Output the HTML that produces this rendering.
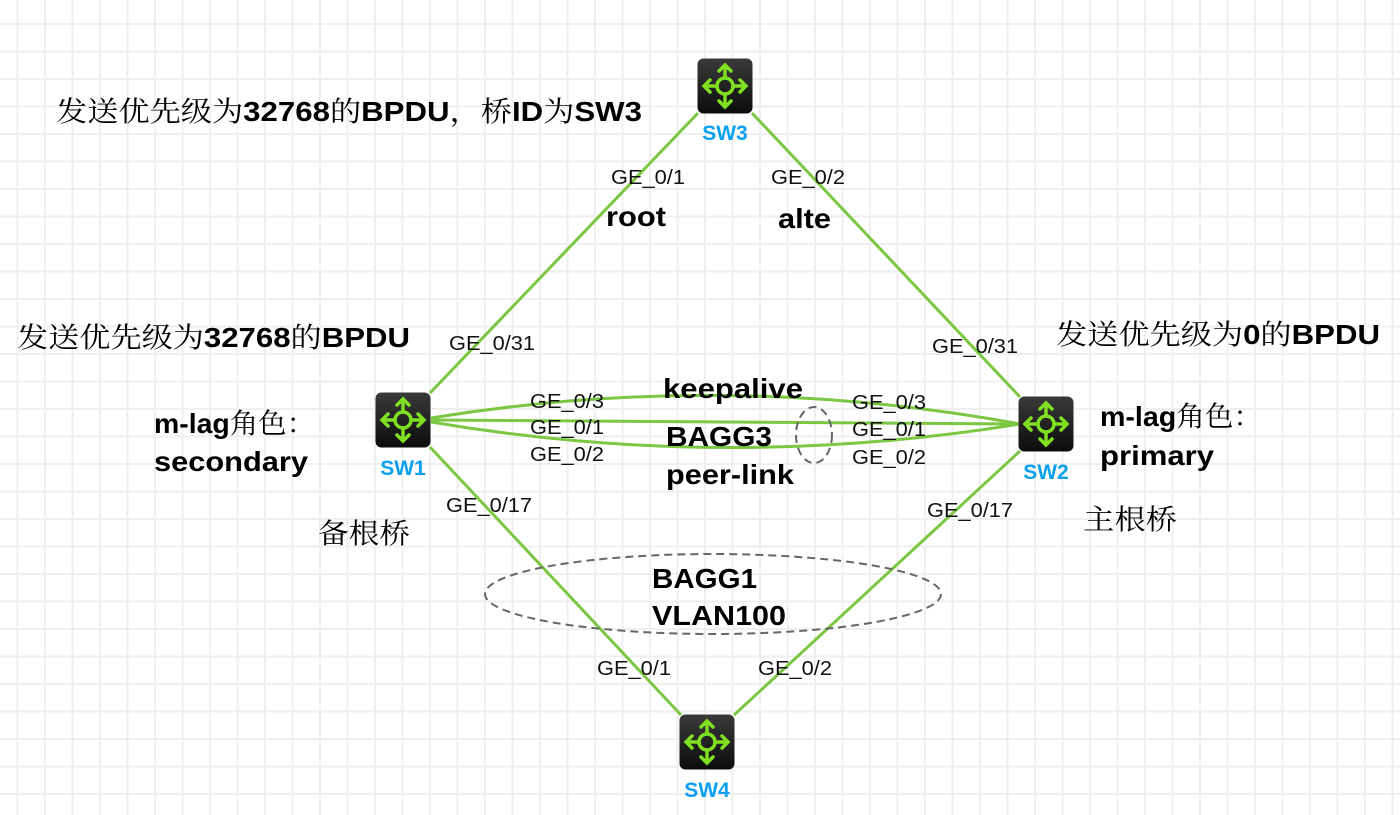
<!DOCTYPE html>
<html><head><meta charset="utf-8"><style>
html,body{margin:0;padding:0;background:#fff;}
body{width:1400px;height:815px;overflow:hidden;position:relative;
background-image:linear-gradient(to right,#efefef 2px,transparent 2px),linear-gradient(to bottom,#efefef 2px,transparent 2px);
background-size:27.5px 27.5px;background-position:16.5px 23px;}
svg{position:absolute;left:0;top:0;}
.p{font-family:"Liberation Sans",sans-serif;font-size:20.5px;fill:#111;}
.b{font-family:"Liberation Sans","Noto Serif CJK SC",serif;font-weight:bold;font-size:28px;fill:#000;}
.c{font-family:"Noto Serif CJK SC","Liberation Serif",serif;font-weight:normal;}
.s{font-family:"Liberation Sans",sans-serif;font-weight:bold;font-size:21px;fill:#0aa0f0;}
</style></head><body>
<svg width="1400" height="815" viewBox="0 0 1400 815">
<defs>
<linearGradient id="g" x1="0" y1="0" x2="0" y2="1"><stop offset="0" stop-color="#3a3a3a"/><stop offset="1" stop-color="#0c0c0c"/></linearGradient>
<g id="sw">
<rect x="-27.5" y="-27.5" width="55" height="55" rx="6" fill="url(#g)"/>
<g stroke="#7ee020" stroke-width="3.5" fill="none" stroke-linecap="round">
<circle r="8"/>
<line x1="0" y1="-8" x2="0" y2="-20"/><line x1="0" y1="8" x2="0" y2="20"/>
<line x1="-8" y1="0" x2="-20" y2="0"/><line x1="8" y1="0" x2="20" y2="0"/>
<polyline points="-6,-15 0,-21 6,-15"/><polyline points="-6,15 0,21 6,15"/>
<polyline points="-15,-6 -21,0 -15,6"/><polyline points="15,-6 21,0 15,6"/>
</g></g>
</defs>
<g stroke="#7cc742" stroke-width="3" fill="none">
<line x1="698" y1="113" x2="430" y2="393"/>
<line x1="752" y1="113" x2="1020" y2="397"/>
<line x1="430" y1="447" x2="681" y2="715"/>
<line x1="1020" y1="451" x2="734" y2="715"/>
<path d="M431,418 Q725,370 1020,424"/>
<path d="M431,420 L1020,424"/>
<path d="M431,422 Q725,472 1020,424"/>
</g>
<g stroke="#666" stroke-width="2" stroke-dasharray="8,5" fill="none">
<ellipse cx="814" cy="435" rx="18" ry="28"/>
<ellipse cx="713" cy="594" rx="228" ry="40"/>
</g>
<use href="#sw" x="725" y="86"/>
<use href="#sw" x="403" y="420"/>
<use href="#sw" x="1046" y="424"/>
<use href="#sw" x="707" y="742"/>
<text class="s" x="725" y="140" text-anchor="middle">SW3</text>
<text class="s" x="403" y="475" text-anchor="middle">SW1</text>
<text class="s" x="1046" y="479" text-anchor="middle">SW2</text>
<text class="s" x="707" y="797" text-anchor="middle">SW4</text>
<g class="p">
<text x="611" y="184" textLength="74" lengthAdjust="spacingAndGlyphs">GE_0/1</text>
<text x="771" y="184" textLength="74" lengthAdjust="spacingAndGlyphs">GE_0/2</text>
<text x="449" y="350" textLength="86" lengthAdjust="spacingAndGlyphs">GE_0/31</text>
<text x="932" y="353" textLength="86" lengthAdjust="spacingAndGlyphs">GE_0/31</text>
<text x="530" y="408" textLength="74" lengthAdjust="spacingAndGlyphs">GE_0/3</text>
<text x="530" y="434" textLength="74" lengthAdjust="spacingAndGlyphs">GE_0/1</text>
<text x="530" y="461" textLength="74" lengthAdjust="spacingAndGlyphs">GE_0/2</text>
<text x="852" y="409" textLength="74" lengthAdjust="spacingAndGlyphs">GE_0/3</text>
<text x="852" y="436" textLength="74" lengthAdjust="spacingAndGlyphs">GE_0/1</text>
<text x="852" y="464" textLength="74" lengthAdjust="spacingAndGlyphs">GE_0/2</text>
<text x="446" y="512" textLength="86" lengthAdjust="spacingAndGlyphs">GE_0/17</text>
<text x="927" y="517" textLength="86" lengthAdjust="spacingAndGlyphs">GE_0/17</text>
<text x="597" y="675" textLength="74" lengthAdjust="spacingAndGlyphs">GE_0/1</text>
<text x="758" y="675" textLength="74" lengthAdjust="spacingAndGlyphs">GE_0/2</text>
</g>
<g class="b">
<text x="56" y="121" textLength="586" lengthAdjust="spacingAndGlyphs"><tspan class="c">发送优先级为</tspan>32768<tspan class="c">的</tspan>BPDU<tspan class="c">，桥</tspan>ID<tspan class="c">为</tspan>SW3</text>
<text x="17" y="347" textLength="393" lengthAdjust="spacingAndGlyphs"><tspan class="c">发送优先级为</tspan>32768<tspan class="c">的</tspan>BPDU</text>
<text x="1056" y="344" textLength="324" lengthAdjust="spacingAndGlyphs"><tspan class="c">发送优先级为</tspan>0<tspan class="c">的</tspan>BPDU</text>
<text x="606" y="226" textLength="60" lengthAdjust="spacingAndGlyphs">root</text>
<text x="778" y="228" textLength="53" lengthAdjust="spacingAndGlyphs">alte</text>
<text x="663" y="398" textLength="140" lengthAdjust="spacingAndGlyphs">keepalive</text>
<text x="666" y="446" textLength="106" lengthAdjust="spacingAndGlyphs">BAGG3</text>
<text x="666" y="484" textLength="128" lengthAdjust="spacingAndGlyphs">peer-link</text>
<text x="154" y="433" textLength="161" lengthAdjust="spacingAndGlyphs">m-lag<tspan class="c">角色：</tspan></text>
<text x="154" y="471" textLength="154" lengthAdjust="spacingAndGlyphs">secondary</text>
<text x="1100" y="426" textLength="162" lengthAdjust="spacingAndGlyphs">m-lag<tspan class="c">角色：</tspan></text>
<text x="1100" y="465" textLength="114" lengthAdjust="spacingAndGlyphs">primary</text>
<text x="652" y="588" textLength="105" lengthAdjust="spacingAndGlyphs">BAGG1</text>
<text x="652" y="625" textLength="134" lengthAdjust="spacingAndGlyphs">VLAN100</text>
<text x="318" y="543" class="c" style="font-weight:normal" textLength="92" lengthAdjust="spacingAndGlyphs">备根桥</text>
<text x="1083" y="529" class="c" style="font-weight:normal" textLength="94" lengthAdjust="spacingAndGlyphs">主根桥</text>
</g>
</svg>
</body></html>
